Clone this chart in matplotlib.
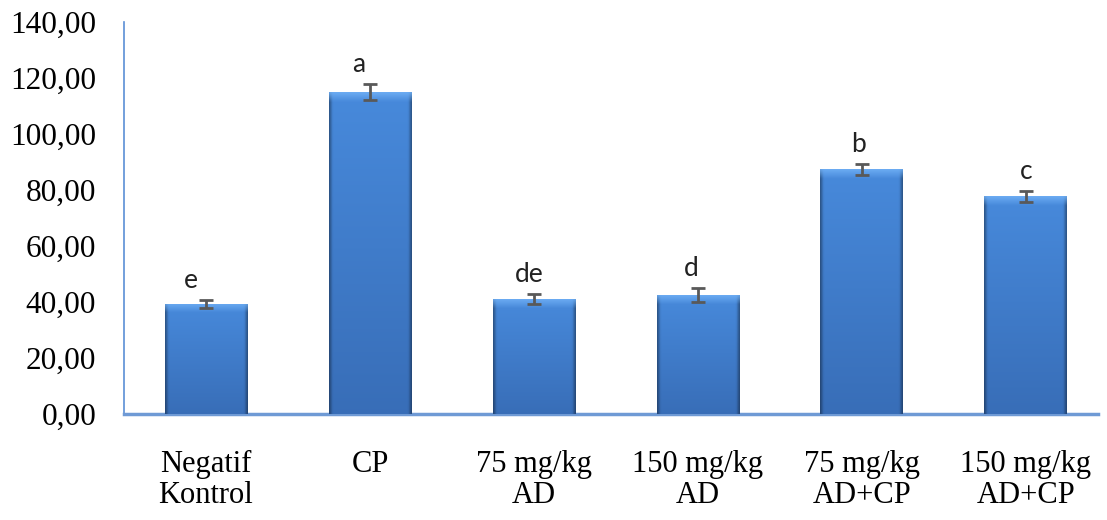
import matplotlib
matplotlib.use("Agg")
import matplotlib.pyplot as plt
import numpy as np

# data
groups = ["Negatif\nKontrol", "CP", "75 mg/kg\nAD", "150 mg/kg\nAD",
          "75 mg/kg\nAD+CP", "150 mg/kg\nAD+CP"]
means = [39.3, 115.0, 41.0, 42.5, 87.4, 77.7]
errors = [1.4, 2.7, 1.8, 2.4, 2.0, 2.1]
letters = ["e", "a", "de", "d", "b", "c"]
letter_dx = [-0.09, -0.07, -0.03, -0.04, -0.02, 0.0]  # small manual shifts as in the source

fig = plt.figure(figsize=(11.07, 5.2), dpi=100)
ax = fig.add_axes([124 / 1107, 1 - 414 / 520, (1098 - 124) / 1107, (414 - 22) / 520])

x = np.arange(len(groups))
width = 0.505
bars = ax.bar(x, means, width, color="#3f78c8", zorder=2)

ax.set_xlim(-0.5, 5.44)
ax.set_ylim(0, 140)

# gradient / bevel look for each bar
for b in bars:
    x0, y0 = b.get_x(), b.get_y()
    w, h = b.get_width(), b.get_height()
    ny, nx = 200, 60
    yy = np.linspace(1, 0, ny)[:, None] * np.ones((1, nx))
    xx = np.ones((ny, 1)) * np.linspace(0, 1, nx)[None, :]
    top = np.array([0.28, 0.54, 0.86])
    bot = np.array([0.22, 0.43, 0.72])
    img = bot + (top - bot) * yy[..., None]
    # darker side edges
    edge = np.clip(1 - np.minimum(xx, 1 - xx) / 0.04, 0, 1)[..., None]
    img = img * (1 - 0.35 * edge)
    # lighter bevel on top
    px_h = h * 2.8
    bev = np.clip(1 - (1 - yy) * px_h / 9, 0, 1)[..., None]
    img = img + (np.array([0.45, 0.70, 0.97]) - img) * bev * 0.8
    im = ax.imshow(img, extent=[x0, x0 + w, y0, y0 + h], aspect="auto",
                   zorder=3, interpolation="bilinear")
    im.set_clip_path(b)

ax.errorbar(x, means, yerr=errors, fmt="none", ecolor="#595959",
            elinewidth=2, capsize=5, capthick=2, zorder=4)

for i in range(len(groups)):
    ax.annotate(letters[i], (x[i] + letter_dx[i], means[i] + errors[i]),
                xytext=(0, 5), textcoords="offset points", ha="center",
                va="bottom", fontsize=19, family="Lato", color="#222222")

ax.set_yticks(np.arange(0, 141, 20))
ax.set_yticklabels(["{:.2f}".format(v).replace(".", ",") for v in np.arange(0, 141, 20)],
                   family="Liberation Serif", fontsize=22.5)
ax.set_xticks(x)
ax.set_xticklabels(groups, family="Liberation Serif", fontsize=22, linespacing=1.1)
ax.tick_params(axis="y", length=0, pad=20)
ax.tick_params(axis="x", length=0, pad=26)

for s in ["top", "right"]:
    ax.spines[s].set_visible(False)
ax.spines["left"].set_color("#5b8fd6")
ax.spines["left"].set_linewidth(1.2)
ax.spines["bottom"].set_color("#6f9ad5")
ax.spines["bottom"].set_linewidth(2.5)

fig.savefig("out.png", dpi=100)
